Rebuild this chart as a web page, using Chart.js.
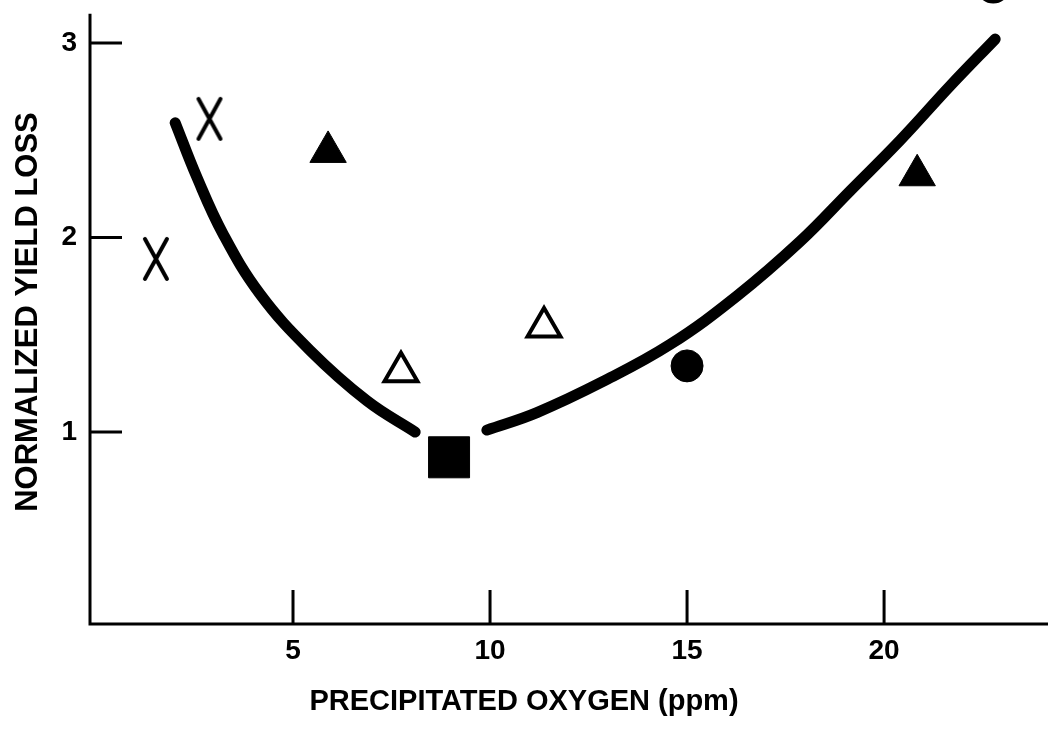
<!DOCTYPE html>
<html>
<head>
<meta charset="utf-8">
<script src="https://cdn.jsdelivr.net/npm/chart.js@4.4.0/dist/chart.umd.min.js"></script>
<style>
  body { margin: 0; background: #fff; }
  #yieldChart { display: block; }
</style>
</head>
<body>
<canvas id="yieldChart" width="1048" height="730"></canvas>
<script>
// tick values on the axes
const xTickValues = [5, 10, 15, 20];
const yTickValues = [1, 2, 3];

// hand-drawn trend curve (two branches, gap at the minimum)
const curveLeftX  = [2.01, 2.56, 3.22, 4.16, 5.43, 6.88, 8.10];
const curveLeftY  = [2.59, 2.31, 2.02, 1.71, 1.42, 1.16, 1.00];
const curveRightX = [9.92, 11.19, 12.87, 14.57, 16.27, 17.87, 19.14, 20.41, 21.68, 22.82];
const curveRightY = [1.01, 1.10, 1.26, 1.45, 1.70, 1.98, 2.24, 2.50, 2.78, 3.02];

// measured points, one pair of arrays per marker
const crossX = [1.52, 2.88];
const crossY = [1.89, 2.61];
const filledTriX = [5.89, 20.84];
const filledTriY = [2.44, 2.32];
const openTriX = [7.74, 11.37];
const openTriY = [1.31, 1.54];
const squareX = [8.96];
const squareY = [0.87];
const dotX = [15.0];
const dotY = [1.34];
const ringX = [22.77];
const ringY = [3.29];   // sits above the top of the frame, only its lower edge shows

const yAxisTop = 3.15;
const FONT = "'Liberation Sans', Arial, sans-serif";

const pts = (xs, ys) => xs.map((x, i) => ({ x: x, y: ys[i] }));

// tall letter-like X used for two of the points
function makeCross() {
    const c = document.createElement('canvas');
    c.width = 30;
    c.height = 46;
    const g = c.getContext('2d');
    g.strokeStyle = '#000';
    g.lineWidth = 4;
    g.lineCap = 'round';
    g.beginPath();
    g.moveTo(4, 3); g.lineTo(26, 43);
    g.moveTo(26, 3); g.lineTo(4, 43);
    g.stroke();
    return c;
}

// axis lines with ticks pointing into the plot
const handAxes = {
    id: 'handAxes',
    beforeDatasetsDraw(chart) {
        const { ctx, scales: { x, y } } = chart;
        ctx.save();
        ctx.strokeStyle = '#000';
        ctx.lineWidth = 3;
        ctx.beginPath();
        ctx.moveTo(x.left, y.getPixelForValue(yAxisTop));
        ctx.lineTo(x.left, y.bottom);
        ctx.lineTo(x.right, y.bottom);
        yTickValues.forEach(v => {
            const py = y.getPixelForValue(v);
            ctx.moveTo(x.left, py);
            ctx.lineTo(x.left + 32, py);
        });
        xTickValues.forEach(v => {
            const px = x.getPixelForValue(v);
            ctx.moveTo(px, y.bottom);
            ctx.lineTo(px, y.bottom - 34);
        });
        ctx.stroke();
        ctx.restore();
    }
};

const curveStyle = {
    showLine: true,
    borderColor: '#000',
    borderWidth: 11,
    borderCapStyle: 'round',
    tension: 0.4,
    pointRadius: 0,
    clip: false
};

let ctx = document.getElementById('yieldChart').getContext('2d');

let yieldChart = new Chart(ctx, {
    type: 'scatter',
    data: {
        datasets: [
            Object.assign({ label: 'curve left', data: pts(curveLeftX, curveLeftY) }, curveStyle),
            Object.assign({ label: 'curve right', data: pts(curveRightX, curveRightY) }, curveStyle),
            {
                label: 'X',
                data: pts(crossX, crossY),
                pointStyle: makeCross(),
                pointRadius: 12,
                clip: false
            },
            {
                label: 'filled triangle',
                data: pts(filledTriX, filledTriY),
                pointStyle: 'triangle',
                pointRadius: 21,
                backgroundColor: '#000',
                borderColor: '#000',
                borderWidth: 1,
                clip: false
            },
            {
                label: 'open triangle',
                data: pts(openTriX, openTriY),
                pointStyle: 'triangle',
                pointRadius: 19,
                backgroundColor: '#fff',
                borderColor: '#000',
                borderWidth: 4,
                clip: false
            },
            {
                label: 'square',
                data: pts(squareX, squareY),
                pointStyle: 'rect',
                pointRadius: 29,
                backgroundColor: '#000',
                borderColor: '#000',
                borderWidth: 1,
                clip: false
            },
            {
                label: 'filled circle',
                data: pts(dotX, dotY),
                pointStyle: 'circle',
                pointRadius: 16,
                backgroundColor: '#000',
                borderColor: '#000',
                borderWidth: 1,
                clip: false
            },
            {
                label: 'open circle',
                data: pts(ringX, ringY),
                pointStyle: 'circle',
                pointRadius: 15,
                backgroundColor: '#fff',
                borderColor: '#000',
                borderWidth: 4,
                clip: false
            }
        ]
    },
    options: {
        responsive: false,
        animation: false,
        layout: { padding: 0, autoPadding: false },
        plugins: {
            legend: { display: false },
            tooltip: { enabled: false },
            title: {
                display: true,
                position: 'bottom',
                text: 'PRECIPITATED OXYGEN (ppm)',
                color: '#000',
                font: { family: FONT, size: 29, weight: 'bold', lineHeight: 1.2 },
                padding: { top: 13, bottom: 11 }
            }
        },
        scales: {
            x: {
                type: 'linear',
                min: -0.152,
                max: 24.16,
                afterBuildTicks: s => { s.ticks = xTickValues.map(v => ({ value: v })); },
                afterFit: s => {
                    s.height = 47.2;
                    s.paddingLeft = 0;
                    s.paddingRight = 0;
                },
                grid: { display: false, drawTicks: false },
                border: { display: false },
                ticks: {
                    color: '#000',
                    font: { family: FONT, size: 28, weight: 'bold' },
                    padding: 10,
                    maxRotation: 0,
                    autoSkip: false
                }
            },
            y: {
                type: 'linear',
                min: 0.013,
                max: 3.221,
                afterBuildTicks: s => { s.ticks = yTickValues.map(v => ({ value: v })); },
                afterFit: s => {
                    s.width = 90;
                    s.paddingTop = 0;
                    s.paddingBottom = 0;
                },
                grid: { display: false, drawTicks: false },
                border: { display: false },
                ticks: {
                    color: '#000',
                    font: { family: FONT, size: 28, weight: 'bold' },
                    padding: 13,
                    autoSkip: false
                },
                title: {
                    display: true,
                    text: 'NORMALIZED YIELD LOSS',
                    color: '#000',
                    font: { family: FONT, size: 31, weight: 'bold' },
                    padding: { top: 10, bottom: 0 }
                }
            }
        }
    },
    plugins: [handAxes]
});
</script>
</body>
</html>
